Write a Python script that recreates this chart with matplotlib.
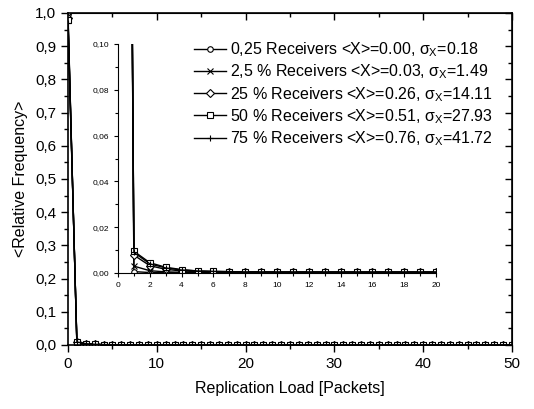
import matplotlib
matplotlib.use('Agg')
import matplotlib.pyplot as plt
from matplotlib.ticker import MultipleLocator, FuncFormatter

plt.rcParams['font.family'] = ['Liberation Sans', 'DejaVu Sans']
plt.rcParams['mathtext.fontset'] = 'custom'
plt.rcParams['mathtext.rm'] = 'Liberation Sans'
plt.rcParams['mathtext.it'] = 'Liberation Sans'

# Replication load (packets)
x_main = list(range(0, 51))
x_inset = list(range(0, 21))

labels = [
    r'0,25 Receivers <X>=0.00, $\sigma_\mathregular{X}$=0.18',
    r'2,5 % Receivers <X>=0.03, $\sigma_\mathregular{X}$=1.49',
    r'25 % Receivers <X>=0.26, $\sigma_\mathregular{X}$=14.11',
    r'50 % Receivers <X>=0.51, $\sigma_\mathregular{X}$=27.93',
    r'75 % Receivers <X>=0.76, $\sigma_\mathregular{X}$=41.72',
]
markers = ['o', 'x', 'D', 's', '+']

# relative frequency for the first 21 load values
head_025 = [0.998, 0.0006, 0.0002, 0.0001, 0.0001, 0.0001, 0.0001, 0.0001, 0.0001, 0.0001,
            0.0001, 0.0001, 0.0001, 0.0001, 0.0001, 0.0001, 0.0001, 0.0001, 0.0001, 0.0001, 0.0001]
head_25p = [0.992, 0.0030, 0.0010, 0.0005, 0.0003, 0.0002, 0.0002, 0.0002, 0.0002, 0.0002,
            0.0002, 0.0002, 0.0002, 0.0002, 0.0002, 0.0002, 0.0002, 0.0002, 0.0002, 0.0002, 0.0002]
head_25 = [0.985, 0.0078, 0.0032, 0.0016, 0.0009, 0.0006, 0.0005, 0.0004, 0.0004, 0.0003,
           0.0003, 0.0003, 0.0003, 0.0003, 0.0003, 0.0003, 0.0003, 0.0003, 0.0003, 0.0003, 0.0003]
head_50 = [0.978, 0.0095, 0.0045, 0.0025, 0.0015, 0.0009, 0.0007, 0.0006, 0.0005, 0.0005,
           0.0004, 0.0004, 0.0004, 0.0004, 0.0004, 0.0004, 0.0004, 0.0004, 0.0004, 0.0004, 0.0004]
head_75 = [0.970, 0.0090, 0.0040, 0.0022, 0.0013, 0.0009, 0.0007, 0.0006, 0.0005, 0.0005,
           0.0005, 0.0005, 0.0005, 0.0005, 0.0005, 0.0005, 0.0005, 0.0005, 0.0005, 0.0005, 0.0005]

# tail values beyond load 20 (flat, near zero)
tail_025 = [0.0001] * 30
tail_25p = [0.0002] * 30
tail_25 = [0.0003] * 30
tail_50 = [0.0004] * 30
tail_75 = [0.0005] * 30

series = [head_025 + tail_025, head_25p + tail_25p, head_25 + tail_25,
          head_50 + tail_50, head_75 + tail_75]

comma1 = FuncFormatter(lambda v, p: f'{v:.1f}'.replace('.', ','))
comma2 = FuncFormatter(lambda v, p: f'{v:.2f}'.replace('.', ','))

fig = plt.figure(figsize=(5.34, 4.09), dpi=100)
ax = fig.add_axes([68 / 534, 1 - 345 / 409, (512 - 68) / 534, (345 - 13) / 409])

for y, m in zip(series, markers):
    ax.plot(x_main, y, color='black', lw=1.0, marker=m, ms=4, mfc='white', mec='black', mew=0.8)

ax.set_xlim(0, 50)
ax.set_ylim(0, 1.0)
ax.xaxis.set_major_locator(MultipleLocator(10))
ax.xaxis.set_minor_locator(MultipleLocator(5))
ax.yaxis.set_major_locator(MultipleLocator(0.1))
ax.yaxis.set_minor_locator(MultipleLocator(0.05))
ax.yaxis.set_major_formatter(comma1)
ax.tick_params(which='both', direction='out', labelsize=11)
ax.tick_params(which='major', length=5, width=1)
ax.tick_params(which='minor', length=3, width=1)
for s in ax.spines.values():
    s.set_linewidth(1.2)
ax.set_xlabel('Replication Load [Packets]', fontsize=11.5, labelpad=7)
ax.set_ylabel('<Relative Frequency>', fontsize=11.5, labelpad=5)

# inward ticks on top and right
top = ax.secondary_xaxis('top')
top.xaxis.set_major_locator(MultipleLocator(10))
top.xaxis.set_minor_locator(MultipleLocator(5))
top.tick_params(which='both', direction='in', labeltop=False, width=1)
top.tick_params(which='major', length=5)
top.tick_params(which='minor', length=3)
right = ax.secondary_yaxis('right')
right.yaxis.set_major_locator(MultipleLocator(0.1))
right.yaxis.set_minor_locator(MultipleLocator(0.05))
right.tick_params(which='both', direction='in', labelright=False, width=1)
right.tick_params(which='major', length=5)
right.tick_params(which='minor', length=3)

# inset
ins = fig.add_axes([118 / 534, 1 - 273 / 409, (436 - 118) / 534, (273 - 44) / 409])
ins.patch.set_alpha(0)
handles = []
for y, m, lab in zip(series, markers, labels):
    h, = ins.plot(x_inset, y[:21], color='black', lw=1.0, marker=m, ms=4, mfc='white',
                  mec='black', mew=0.8, label=lab)
    handles.append(h)
ins.set_xlim(0, 20)
ins.set_ylim(0, 0.10)
ins.spines['top'].set_visible(False)
ins.spines['right'].set_visible(False)
ins.xaxis.set_major_locator(MultipleLocator(2))
ins.xaxis.set_minor_locator(MultipleLocator(1))
ins.yaxis.set_major_locator(MultipleLocator(0.02))
ins.yaxis.set_minor_locator(MultipleLocator(0.01))
ins.yaxis.set_major_formatter(comma2)
ins.tick_params(which='both', direction='out', labelsize=6, width=0.8)
ins.tick_params(which='major', length=3)
ins.tick_params(which='minor', length=2)

leg = ins.legend(handles=handles, loc='upper left', bbox_to_anchor=(188 / 534, 1 - 34 / 409),
                 bbox_transform=fig.transFigure, frameon=False, fontsize=11.5,
                 handlelength=2.0, handletextpad=0.25, labelspacing=0.22, borderaxespad=0)

fig.savefig('out.png', dpi=100)
